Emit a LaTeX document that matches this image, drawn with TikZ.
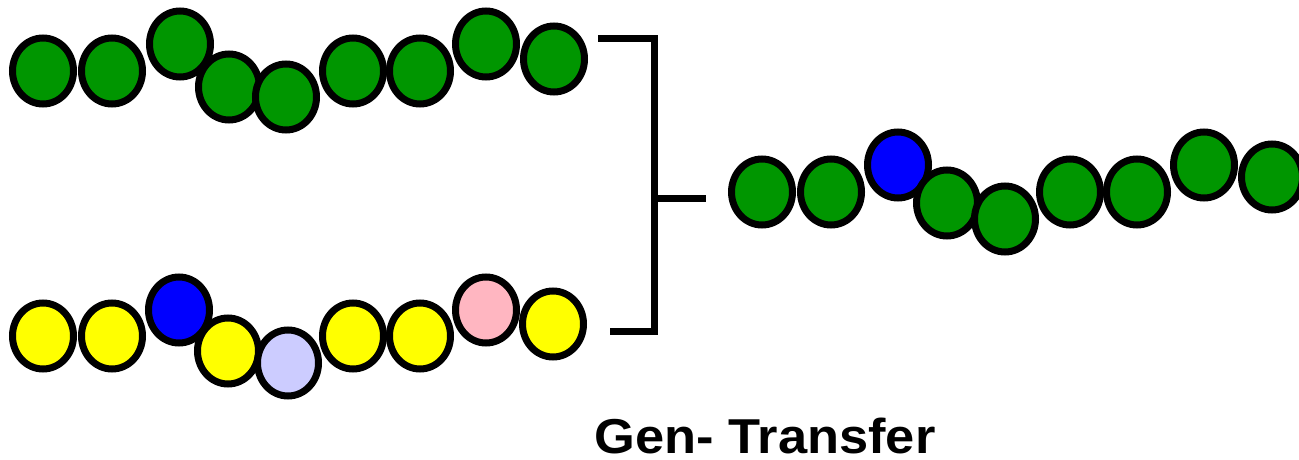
\documentclass[tikz,border=0pt]{standalone}
\usepackage{fontspec}
\setmainfont{Liberation Sans}
\usetikzlibrary{shapes.geometric}
\definecolor{bgreen}{RGB}{0,150,0}
\definecolor{bblue}{RGB}{0,0,255}
\definecolor{byellow}{RGB}{255,255,0}
\definecolor{blav}{RGB}{204,204,255}
\definecolor{bpink}{RGB}{255,182,193}
\tikzset{
  bead/.style={ellipse, draw=black, line width=7pt, minimum width=61pt, minimum height=66pt, inner sep=0pt},
  gb/.style={bead, fill=bgreen},
  bb/.style={bead, fill=bblue},
  yb/.style={bead, fill=byellow},
  lb/.style={bead, fill=blav},
  pb/.style={bead, fill=bpink},
  bar/.style={line width=7pt}
}
\begin{document}
\begin{tikzpicture}[x=1pt,y=-1pt]
\useasboundingbox (0,0) rectangle (1299,460);
% upper strand
\node[gb] (a1) at (43,71) {};
\node[gb] (a2) at (112,71) {};
\node[gb] (a3) at (180,44) {};
\node[gb] (a4) at (229,87) {};
\node[gb] (a5) at (286,97) {};
\node[gb] (a6) at (353,71) {};
\node[gb] (a7) at (420,71) {};
\node[gb] (a8) at (486,44) {};
\node[gb] (a9) at (554,59) {};
% lower strand
\node[yb] (b1) at (43,336) {};
\node[yb] (b2) at (112,336) {};
\node[bb] (b3) at (179,310) {};
\node[yb] (b4) at (228,351) {};
\node[lb] (b5) at (288,363) {};
\node[yb] (b6) at (353,336) {};
\node[yb] (b7) at (420,336) {};
\node[pb] (b8) at (486,310) {};
\node[yb] (b9) at (553,324) {};
% recombined strand
\node[gb] (c1) at (762,192) {};
\node[gb] (c2) at (831,192) {};
\node[bb] (c3) at (898,165) {};
\node[gb] (c4) at (947,203) {};
\node[gb] (c5) at (1005,219) {};
\node[gb] (c6) at (1070,192) {};
\node[gb] (c7) at (1137,192) {};
\node[gb] (c8) at (1204,165) {};
\node[gb] (c9) at (1272,177) {};
% bracket joining the two strands
\coordinate (t0) at (598,39);
\coordinate (t1) at (654,39);
\coordinate (u0) at (610,331);
\coordinate (u1) at (654,331);
\coordinate (m0) at (654,198);
\coordinate (m1) at (706,198);
\draw[bar] (t0) -- (t1) -- (u1) -- (u0);
\draw[bar] (m0) -- (m1);
% caption
\node[font=\bfseries\fontsize{49}{55}\selectfont, xscale=1.07, inner sep=0pt] (cap) at (765,436) {Gen- Transfer};
\end{tikzpicture}
\end{document}
